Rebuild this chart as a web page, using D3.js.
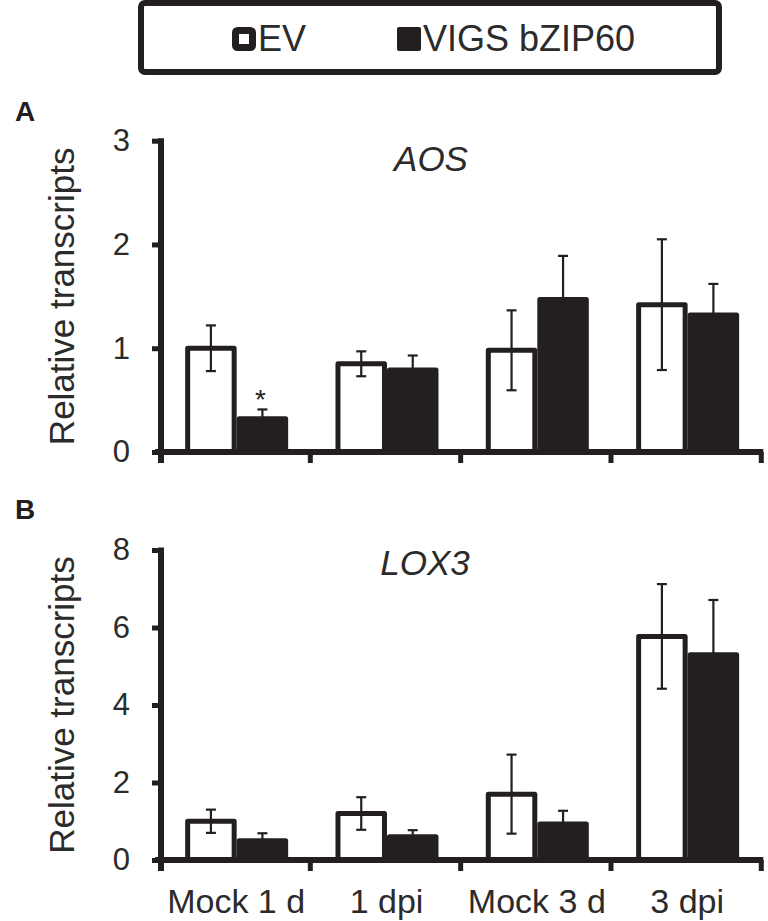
<!DOCTYPE html>
<html>
<head>
<meta charset="utf-8">
<script src="https://cdn.jsdelivr.net/npm/d3@7"></script>
<style>
  html, body { margin: 0; padding: 0; background: #fff; }
  svg { display: block; font-family: "Liberation Sans", Arial, Helvetica, sans-serif; }
</style>
</head>
<body>
<svg id="chart" width="768" height="921"></svg>
<script>
// ---- data ----
const categories = ["Mock 1 d", "1 dpi", "Mock 3 d", "3 dpi"];
const seriesNames = ["EV", "VIGS bZIP60"];

const aosEV = [1.0, 0.85, 0.98, 1.42];
const aosEVErr = [0.22, 0.12, 0.385, 0.63];
const aosVIGS = [0.32, 0.79, 1.47, 1.32];
const aosVIGSErr = [0.09, 0.14, 0.42, 0.30];
const aosTicks = [0, 1, 2, 3];
const aosSignificance = ["*", "", "", ""];

const lox3EV = [1.0, 1.2, 1.7, 5.77];
const lox3EVErr = [0.30, 0.42, 1.02, 1.35];
const lox3VIGS = [0.50, 0.60, 0.93, 5.30];
const lox3VIGSErr = [0.19, 0.17, 0.34, 1.41];
const lox3Ticks = [0, 2, 4, 6, 8];
const lox3Significance = ["", "", "", ""];

// ---- style ----
const INK = "#231f20";
const TEXT = "#2b2b2b";
const svg = d3.select("#chart");

const plotLeft = 161, plotRight = 762.3;
const x0 = d3.scaleBand().domain(categories).range([plotLeft, plotRight]).padding(0);
const bw = x0.bandwidth();
const x1 = d3.scaleBand().domain(seriesNames).range([bw / 2 - 51, bw / 2 + 52]).padding(0);

function drawPanel(opts) {
  const { top, bottom, maxV, ticks, ev, evErr, vigs, vigsErr, sig, title, titleX, titleY, letter, letterY, showX } = opts;
  const y = d3.scaleLinear().domain([0, maxV]).range([bottom, top]);
  const g = svg.append("g");

  const rows = categories.map((c, i) => ({
    cat: c,
    vals: [
      { s: seriesNames[0], v: ev[i], e: evErr[i] },
      { s: seriesNames[1], v: vigs[i], e: vigsErr[i] }
    ],
    sig: sig[i]
  }));

  const groups = g.selectAll("g.grp").data(rows).join("g")
    .attr("class", "grp")
    .attr("transform", d => `translate(${x0(d.cat)},0)`);

  // bars
  groups.selectAll("rect").data(d => d.vals).join("rect")
    .attr("x", d => x1(d.s) + 2.5)
    .attr("width", x1.bandwidth() - 5)
    .attr("y", d => y(d.v))
    .attr("height", d => y(0) - y(d.v))
    .attr("fill", (d, i) => i === 0 ? "#fff" : INK)
    .attr("stroke", INK)
    .attr("stroke-width", 5)
    .attr("stroke-linejoin", "round");

  // error bars
  const eb = groups.selectAll("g.err").data(d => d.vals).join("g").attr("class", "err")
    .attr("transform", d => `translate(${x1(d.s) + x1.bandwidth() / 2},0)`);
  eb.append("line").attr("x1", 0).attr("x2", 0)
    .attr("y1", d => y(d.v + d.e)).attr("y2", d => y(d.v - d.e))
    .attr("stroke", INK).attr("stroke-width", 2.2);
  eb.append("line").attr("x1", -5).attr("x2", 5)
    .attr("y1", d => y(d.v + d.e)).attr("y2", d => y(d.v + d.e))
    .attr("stroke", INK).attr("stroke-width", 2.2);
  eb.append("line").attr("x1", -5).attr("x2", 5)
    .attr("y1", d => y(d.v - d.e)).attr("y2", d => y(d.v - d.e))
    .attr("stroke", INK).attr("stroke-width", 2.2);

  // significance marks
  groups.append("text")
    .attr("x", x1(seriesNames[1]) + x1.bandwidth() / 2 - 2)
    .attr("y", d => y(d.vals[1].v + d.vals[1].e) - 0)
    .attr("text-anchor", "middle")
    .attr("font-size", 28)
    .attr("fill", INK)
    .text(d => d.sig);

  // y axis
  const yAxis = d3.axisLeft(y).tickValues(ticks).tickSize(9).tickSizeOuter(0).tickPadding(22).tickFormat(d3.format("d"));
  const ya = g.append("g").attr("transform", `translate(${plotLeft},0)`).call(yAxis);
  ya.select(".domain").remove();
  ya.selectAll(".tick line").attr("stroke", INK).attr("stroke-width", 5);
  ya.selectAll(".tick text").attr("font-size", 31).attr("fill", TEXT)
    .attr("font-family", "Liberation Sans, Arial, sans-serif");
  g.append("line").attr("x1", plotLeft).attr("x2", plotLeft)
    .attr("y1", y(maxV) - 2.5).attr("y2", y(0) + 11)
    .attr("stroke", INK).attr("stroke-width", 6);

  // x axis line + boundary ticks
  g.append("line").attr("x1", plotLeft - 6).attr("x2", plotRight + 1)
    .attr("y1", y(0)).attr("y2", y(0))
    .attr("stroke", INK).attr("stroke-width", 6);
  const bounds = categories.map(c => x0(c)).concat([x0.range()[1]]);
  g.selectAll("line.bt").data(bounds.slice(1)).join("line").attr("class", "bt")
    .attr("x1", d => d - 1).attr("x2", d => d - 1)
    .attr("y1", y(0)).attr("y2", y(0) + 11)
    .attr("stroke", INK).attr("stroke-width", 5);

  if (showX) {
    const xa = g.append("g").attr("transform", `translate(0,${y(0)})`)
      .call(d3.axisBottom(x0).tickSize(0).tickPadding(29));
    xa.select(".domain").remove();
    xa.selectAll(".tick text").attr("font-size", 34).attr("fill", TEXT)
      .attr("font-family", "Liberation Sans, Arial, sans-serif");
  }

  // title
  g.append("text").attr("x", titleX).attr("y", titleY)
    .attr("text-anchor", "middle").attr("font-size", 35).attr("font-style", "italic")
    .attr("fill", TEXT).text(title);

  // y label
  g.append("text")
    .attr("transform", `translate(74,${(top + bottom) / 2}) rotate(-90)`)
    .attr("text-anchor", "middle").attr("font-size", 35).attr("fill", TEXT)
    .text("Relative transcripts");

  // panel letter
  g.append("text").attr("x", 15).attr("y", letterY)
    .attr("font-size", 28).attr("font-weight", "bold").attr("fill", INK).text(letter);
}

drawPanel({ top: 140.7, bottom: 452, maxV: 3, ticks: aosTicks, ev: aosEV, evErr: aosEVErr,
  vigs: aosVIGS, vigsErr: aosVIGSErr, sig: aosSignificance, title: "AOS", titleX: 431, titleY: 171,
  letter: "A", letterY: 121, showX: false });
drawPanel({ top: 550, bottom: 860, maxV: 8, ticks: lox3Ticks, ev: lox3EV, evErr: lox3EVErr,
  vigs: lox3VIGS, vigsErr: lox3VIGSErr, sig: lox3Significance, title: "LOX3", titleX: 425, titleY: 575,
  letter: "B", letterY: 519, showX: true });

// ---- legend ----
const lg = svg.append("g");
lg.append("rect").attr("x", 141).attr("y", 3).attr("width", 578).attr("height", 69)
  .attr("rx", 4).attr("fill", "#fff").attr("stroke", INK).attr("stroke-width", 6);
const legendX = [232, 397];
const li = lg.selectAll("g.li").data(seriesNames).join("g").attr("class", "li")
  .attr("transform", (d, i) => `translate(${legendX[i]},27)`);
li.append("rect").attr("x", (d, i) => i === 0 ? 3.5 : 0).attr("y", (d, i) => i === 0 ? 3.5 : 0)
  .attr("width", (d, i) => i === 0 ? 17 : 24).attr("height", (d, i) => i === 0 ? 17 : 24)
  .attr("rx", 2)
  .attr("fill", (d, i) => i === 0 ? "#fff" : INK)
  .attr("stroke", INK).attr("stroke-width", (d, i) => i === 0 ? 7 : 0);
li.append("text").attr("x", 26).attr("y", 23.5)
  .attr("font-size", 36).attr("fill", TEXT).text(d => d);
</script>
</body>
</html>
